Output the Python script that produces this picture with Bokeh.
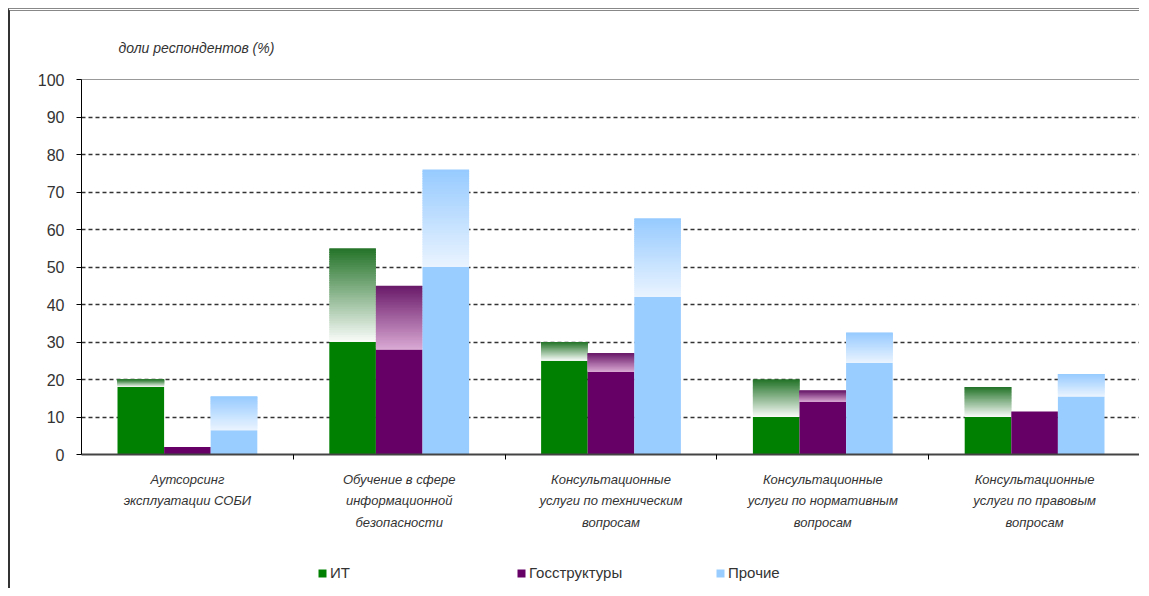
import numpy as np
from bokeh.plotting import figure
from bokeh.layouts import column
from bokeh.models import ColumnDataSource, Range1d, FixedTicker, Legend, LegendItem
from bokeh.embed import file_html
from bokeh.resources import INLINE

categories = [
    "Аутсорсинг\nэксплуатации СОБИ",
    "Обучение в сфере\nинформационной\nбезопасности",
    "Консультационные\nуслуги по техническим\nвопросам",
    "Консультационные\nуслуги по нормативным\nвопросам",
    "Консультационные\nуслуги по правовым\nвопросам",
]
series = ["ИТ", "Госструктуры", "Прочие"]
it_base = [18, 30, 25, 10, 10]
it_top = [20, 55, 30, 20, 18]
gov_base = [2, 28, 22, 14, 11.5]
gov_top = [2, 45, 27, 17, 11.5]
oth_base = [6.5, 50, 42, 24.5, 15.5]
oth_top = [15.5, 76, 63, 32.5, 21.5]
y_ticks = list(range(0, 101, 10))
y_label = "доли респондентов (%)"

solid = ["#008000", "#660066", "#99CCFF"]
grad_top = [(35, 115, 40), (105, 25, 105), (150, 202, 255)]
grad_bot = [(250, 252, 250), (218, 170, 212), (234, 244, 255)]

FONT = "Liberation Sans"
TXT = "#333333"
n = len(categories)

p = figure(width=1131, height=540, output_backend="svg", toolbar_location=None,
           x_range=Range1d(0, n), y_range=Range1d(0, 100),
           min_border_left=71, min_border_right=1, min_border_top=68, min_border_bottom=97)
p.styles = {"border-top": "3px double #888888", "border-left": "2px solid #333333"}
p.background_fill_color = "white"
p.border_fill_color = "white"
p.outline_line_color = "#999999"
p.outline_line_width = 1

# title used as the y-axis caption
p.title.text = y_label
p.title.align = "left"
p.title.offset = 37
p.title.standoff = 48
p.title.text_font = FONT
p.title.text_font_style = "italic"
p.title.text_font_size = "14px"
p.title.text_color = TXT

width = 0.22
offsets = [-0.22, 0.0, 0.22]
bases = [it_base, gov_base, oth_base]
tops = [it_top, gov_top, oth_top]

N = 40
for j in range(3):
    xc = np.arange(n) + 0.5 + offsets[j]
    src = ColumnDataSource(dict(x=xc, top=bases[j]))
    p.vbar(x="x", top="top", bottom=0, width=width, source=src,
           fill_color=solid[j], line_color=None)
    L, R, B, T, C = [], [], [], [], []
    for i in range(n):
        b, t = bases[j][i], tops[j][i]
        if t <= b:
            continue
        for k in range(N):
            f = (k + 0.5) / N
            col = tuple(int(round(grad_bot[j][c] + (grad_top[j][c] - grad_bot[j][c]) * f)) for c in range(3))
            L.append(xc[i] - width / 2)
            R.append(xc[i] + width / 2)
            B.append(b + (t - b) * k / N)
            T.append(min(t, b + (t - b) * (k + 1) / N + 0.35))
            C.append("#%02x%02x%02x" % col)
    gsrc = ColumnDataSource(dict(left=L, right=R, bottom=B, top=T, color=C))
    p.quad(left="left", right="right", bottom="bottom", top="top", color="color",
           line_color=None, source=gsrc)

# y axis
p.yaxis.ticker = FixedTicker(ticks=y_ticks)
p.yaxis.axis_line_color = "#000000"
p.yaxis.major_tick_line_color = "#000000"
p.yaxis.major_tick_out = 5
p.yaxis.major_tick_in = 0
p.yaxis.minor_tick_line_color = None
p.yaxis.major_label_text_font = FONT
p.yaxis.major_label_text_font_size = "16px"
p.yaxis.major_label_text_color = TXT
p.yaxis.major_label_standoff = 12

# grid
p.xgrid.grid_line_color = None
p.ygrid.ticker = FixedTicker(ticks=y_ticks[1:-1])
p.ygrid.grid_line_color = "#333333"
p.ygrid.grid_line_dash = "4 3"
p.ygrid.grid_line_width = 1.3

# x axis
centers = [i + 0.5 for i in range(n)]
p.xaxis.ticker = FixedTicker(ticks=centers, minor_ticks=list(range(1, n)))
p.xaxis.major_label_overrides = {c: lab for c, lab in zip(centers, categories)}
p.xaxis.major_tick_line_color = None
p.xaxis.major_tick_out = 0
p.xaxis.major_tick_in = 0
p.xaxis.minor_tick_line_color = "#000000"
p.xaxis.minor_tick_out = 5
p.xaxis.minor_tick_in = 0
p.xaxis.axis_line_color = "#444444"
p.xaxis.axis_line_width = 2
p.xaxis.major_label_text_font = FONT
p.xaxis.major_label_text_font_style = "italic"
p.xaxis.major_label_text_font_size = "13px"
p.xaxis.major_label_text_color = TXT
p.xaxis.major_label_text_line_height = 1.45
p.xaxis.major_label_standoff = 12

# legend strip below the chart
q = figure(width=1131, height=40, output_backend="svg", toolbar_location=None,
           x_range=Range1d(0, n), y_range=Range1d(0, 1),
           x_axis_type=None, y_axis_type=None,
           min_border_left=71, min_border_right=1, min_border_top=0, min_border_bottom=0)
q.styles = {"border-left": "2px solid #333333"}
q.outline_line_color = None
q.outline_line_alpha = 0
q.grid.visible = False
q.background_fill_color = "white"
q.border_fill_color = "white"
leg_renderers = []
for j in range(3):
    r = q.vbar(x=[2.5], top=[0], bottom=[0], width=0.0, fill_color=solid[j], line_color=None)
    leg_renderers.append(r)

legend = Legend(items=[LegendItem(label=s, renderers=[r]) for s, r in zip(series, leg_renderers)],
                orientation="horizontal", location=(236, 7),
                glyph_width=10, glyph_height=10, label_standoff=3, label_width=170,
                spacing=16, padding=0, margin=0, border_line_color=None,
                background_fill_alpha=0, label_text_font=FONT, label_text_font_size="15px",
                label_text_color=TXT)
q.add_layout(legend, "center")

layout = column(p, q, spacing=0, margin=(8, 0, 0, 8))
open("out.html", "w").write(file_html(layout, INLINE))
